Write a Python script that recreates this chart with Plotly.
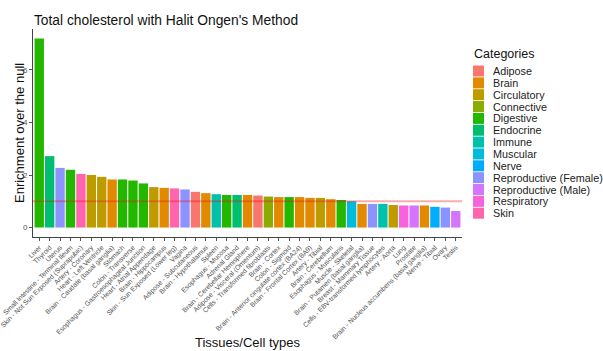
import plotly.graph_objects as go

# Tissue enrichment for total cholesterol (sorted high to low)
tissues = [
    "Liver", "Thyroid", "Uterus", "Small Intestine - Terminal Ileum",
    "Skin - Not Sun Exposed (Suprapubic)", "Artery - Coronary", "Heart - Left Ventricle",
    "Brain - Caudate (basal ganglia)", "Stomach", "Colon - Transverse",
    "Esophagus - Gastroesophageal Junction", "Heart - Atrial Appendage", "Brain - Hippocampus",
    "Skin - Sun Exposed (Lower leg)", "Vagina", "Adipose - Subcutaneous", "Brain - Hypothalamus",
    "Spleen", "Esophagus - Mucosa", "Adrenal Gland", "Brain - Cerebellar Hemisphere",
    "Adipose - Visceral (Omentum)", "Cells - Transformed fibroblasts", "Brain - Cortex",
    "Colon - Sigmoid", "Brain - Anterior cingulate cortex (BA24)", "Brain - Frontal Cortex (BA9)",
    "Artery - Tibial", "Brain - Cerebellum", "Esophagus - Muscularis", "Muscle - Skeletal",
    "Brain - Putamen (basal ganglia)", "Breast - Mammary Tissue",
    "Cells - EBV-transformed lymphocytes", "Artery - Aorta", "Lung", "Prostate",
    "Brain - Nucleus accumbens (basal ganglia)", "Nerve - Tibial", "Ovary", "Testis",
]
enrichment = [
    7.20, 2.72, 2.27, 2.20, 2.04, 2.00, 1.93, 1.83, 1.83, 1.79,
    1.68, 1.54, 1.51, 1.49, 1.45, 1.36, 1.31, 1.27, 1.24, 1.24,
    1.24, 1.22, 1.18, 1.16, 1.16, 1.16, 1.13, 1.13, 1.08, 1.05,
    1.00, 0.90, 0.90, 0.90, 0.86, 0.84, 0.84, 0.84, 0.79, 0.76, 0.63,
]
tissue_category = [
    "Digestive", "Endocrine", "Reproductive (Female)", "Digestive", "Skin", "Circulatory",
    "Circulatory", "Brain", "Digestive", "Digestive", "Digestive", "Circulatory", "Brain",
    "Skin", "Reproductive (Female)", "Adipose", "Brain", "Immune", "Digestive", "Endocrine",
    "Brain", "Adipose", "Connective", "Brain", "Digestive", "Brain", "Brain", "Circulatory",
    "Brain", "Digestive", "Muscular", "Brain", "Reproductive (Female)", "Immune",
    "Circulatory", "Respiratory", "Reproductive (Male)", "Brain", "Nerve",
    "Reproductive (Female)", "Reproductive (Male)",
]
categories = [
    "Adipose", "Brain", "Circulatory", "Connective", "Digestive", "Endocrine", "Immune",
    "Muscular", "Nerve", "Reproductive (Female)", "Reproductive (Male)", "Respiratory", "Skin",
]
category_colors = [
    "#F8766D", "#E18A00", "#BE9C00", "#8CAB00", "#24B700", "#00BE70", "#00C1AB",
    "#00BBDA", "#00ACFC", "#8B93FF", "#D575FE", "#F962DD", "#FF65AC",
]
null_level = 1.0

color_of = dict(zip(categories, category_colors))

W, H = 603, 351
L, R, T, B = 33, 141, 29, 114
pw, ph = W - L - R, H - T - B


def px(x):
    return (x - L) / pw


def py(y):
    return (H - B - y) / ph


FONT = "Liberation Sans, Arial, sans-serif"

fig = go.Figure()
fig.add_trace(go.Bar(
    x=tissues, y=enrichment,
    marker=dict(color=[color_of[c] for c in tissue_category], line=dict(width=0)),
    showlegend=False, hoverinfo="x+y",
))

ymax = max(enrichment)
pad = 0.05 * ymax

fig.add_shape(type="line", xref="paper", yref="y", x0=0, x1=1, y0=null_level, y1=null_level,
              line=dict(color="rgba(235,20,20,0.35)", width=2), layer="above")

annotations = [
    dict(text="Enrichment over the null", x=px(19), y=py(133), textangle=-90,
         xanchor="center", yanchor="middle", font=dict(size=13, color="#111")),
    dict(text="Tissues/Cell types", x=px(247), y=py(342),
         xanchor="center", yanchor="middle", font=dict(size=13, color="#111")),
    dict(text="Categories", x=px(504), y=py(54),
         xanchor="center", yanchor="middle", font=dict(size=12.5, color="#111")),
]

# Hand-built legend: colour keys and labels for each category
step = 11.85
for i, (cat, col) in enumerate(zip(categories, category_colors)):
    cy = 71 + i * step
    fig.add_shape(type="rect", xref="paper", yref="paper",
                  x0=px(473), x1=px(484), y0=py(cy + 5.5), y1=py(cy - 5.5),
                  fillcolor=col, line=dict(width=0))
    annotations.append(dict(text=cat, x=px(491), y=py(cy), xanchor="left",
                            yanchor="middle", font=dict(size=10.8, color="#222")))

for a in annotations:
    a.update(xref="paper", yref="paper", showarrow=False)

fig.update_layout(
    width=W, height=H,
    margin=dict(l=L, r=R, t=T, b=B, pad=0),
    paper_bgcolor="white", plot_bgcolor="white",
    font=dict(family=FONT),
    title=dict(text="Total cholesterol with Halit Ongen's Method",
               xref="paper", x=px(166), xanchor="center",
               yref="container", y=1 - 20 / H, yanchor="middle",
               font=dict(size=13.8, color="#111")),
    bargap=0.1,
    annotations=annotations,
)
fig.update_xaxes(
    type="category", categoryorder="array", categoryarray=tissues,
    range=[-0.6, len(tissues) - 0.4],
    tickangle=-45, tickfont=dict(size=6.8, color="#555"),
    showline=True, linecolor="#444", linewidth=1,
    ticks="outside", ticklen=3, tickcolor="#555",
    showgrid=False, automargin=False, zeroline=False,
)
fig.update_yaxes(
    range=[-pad, ymax + pad],
    tickvals=[0, 2, 4, 6], tickfont=dict(size=8, color="#555"),
    showline=True, linecolor="#444", linewidth=1,
    ticks="outside", ticklen=3, tickcolor="#555",
    showgrid=False, zeroline=False, automargin=False,
)

fig.write_html("out.html")
